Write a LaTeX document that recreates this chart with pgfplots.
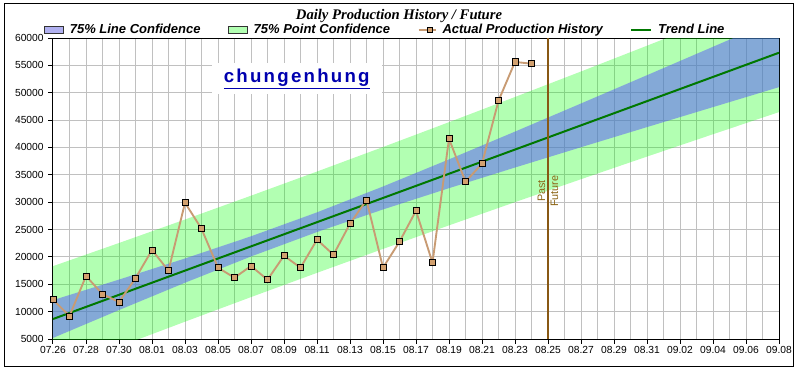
\documentclass[border=0pt]{standalone}
\usepackage{pgfplots}
\pgfplotsset{compat=1.18}
\usepackage{fontspec}
\setmainfont{Liberation Sans}
\newfontfamily\titlefont{Liberation Serif}
\newfontfamily\logofont[LetterSpace=12]{Liberation Sans}
\definecolor{bandblue}{RGB}{88,85,252}
\definecolor{bandgreen}{RGB}{0,255,0}
\definecolor{legblue}{RGB}{176,176,240}
\definecolor{leggreen}{RGB}{178,255,178}
\definecolor{actline}{RGB}{200,155,115}
\definecolor{actmark}{RGB}{210,160,110}
\definecolor{trendc}{RGB}{0,120,0}
\definecolor{pastfut}{RGB}{136,88,20}
\definecolor{pftext}{RGB}{140,100,20}
\definecolor{gridgray}{RGB}{192,192,192}
\definecolor{logoblue}{RGB}{0,0,175}
\begin{document}
\begin{tikzpicture}
\path[use as bounding box] (0,0) rectangle (598.5pt,278.25pt);
\fill[white] (0,0) rectangle (598.5pt,278.25pt);
\draw[black, line width=0.75pt] (3.375pt,3.75pt) rectangle (594.75pt,275.625pt);
\node[font=\titlefont\bfseries\itshape\fontsize{11}{13}\selectfont, anchor=base, inner sep=0pt] at (299.25pt,263.4pt) {Daily Production History / Future};
\begin{axis}[
 at={(39.75pt,24pt)}, anchor=south west,
 scale only axis, width=544.5pt, height=225.75pt,
 xmin=0, xmax=44, ymin=5000, ymax=60000,
 xtick={0,2,...,44},
 xticklabels={07.26,07.28,07.30,08.01,08.03,08.05,08.07,08.09,08.11,08.13,08.15,08.17,08.19,08.21,08.23,08.25,08.27,08.29,08.31,09.02,09.04,09.06,09.08},
 minor x tick num=1,
 ytick={5000,10000,...,60000},
 scaled y ticks=false,
 yticklabel style={/pgf/number format/1000 sep={}},
 /pgf/number format/assume math mode=true,
 tick label style={font=\fontsize{7.7}{9}\selectfont},
 xticklabel style={inner sep=1.5pt},
 grid=both,
 major grid style={gridgray, line width=0.75pt},
 minor grid style={gridgray, line width=0.75pt},
 tick align=outside, xtick pos=bottom, ytick pos=left,
 major tick length=3.5pt, minor tick length=0pt,
 tick style={black, line width=0.75pt},
 axis line style={black, line width=0.75pt},
 legend columns=4,
 legend cell align=left,
 legend style={at={(-0.0124,1.028)}, anchor=west, draw=none, fill=none,
   inner sep=0pt, outer sep=0pt,
   font=\bfseries\itshape\fontsize{9.75}{11}\selectfont,
   nodes={inner sep=0pt},
   /tikz/every odd column/.style={column sep=4.5pt},
   /tikz/every even column/.style={column sep=20.5pt}},
]
\addlegendimage{legend image code/.code={\draw[fill=legblue, draw=black!80, line width=0.6pt] (0pt,-2.6pt) rectangle (14.25pt,2.6pt);}}
\addlegendentry{75\% Line Confidence}
\addlegendimage{legend image code/.code={\draw[fill=leggreen, draw=black!80, line width=0.6pt] (0pt,-2.6pt) rectangle (14.25pt,2.6pt);}}
\addlegendentry{75\% Point Confidence}
\addlegendimage{legend image code/.code={\draw[actline, line width=1.5pt] (0pt,0pt) -- (12.75pt,0pt); \node[draw=black, fill=actmark, line width=0.5pt, minimum size=4pt, inner sep=0pt] at (6.375pt,0pt) {};}}
\addlegendentry{Actual Production History}
\addlegendimage{legend image code/.code={\draw[trendc, line width=1.5pt] (0pt,0pt) -- (15pt,0pt);}}
\addlegendentry{Trend Line}

% 75% point confidence band
\addplot[forget plot, fill=bandgreen, fill opacity=0.3, draw=none] coordinates {
(0,18310) (4,22541) (8,26831) (12,31184) (16,35599) (20,40078) (24,44620) (28,49222) (32,53880) (36,58591) (40,63352) (44,68156)
(44,46464) (40,42420) (36,38333) (32,34198) (28,30008) (24,25764) (20,21458) (16,17089) (12,12658) (8,8163) (4,3607) (0,-1010)} --cycle;
% 75% line confidence band
\addplot[forget plot, fill=bandblue, fill opacity=0.5, draw=none] coordinates {
(0,12105) (4,15858) (8,19712) (12,23764) (16,28141) (20,32866) (24,37822) (28,42896) (32,48034) (36,53204) (40,58396) (44,63600)
(44,51020) (40,47376) (36,43720) (32,40044) (28,36334) (24,32562) (20,28670) (16,24547) (12,20078) (8,15282) (4,10290) (0,5195)} --cycle;
% trend line
\addplot[forget plot, trendc, line width=1.5pt] coordinates {(0,8650) (44,57310)};
% past / future divider
\addplot[forget plot, pastfut, line width=1.6pt] coordinates {(30,5000) (30,60000)};
% actual production
\addplot[forget plot, actline, line width=1.4pt, mark=square*, mark size=2.3pt, mark options={fill=actmark, draw=black, line width=0.6pt}] coordinates {
(0,12180) (1,9200) (2,16500) (3,13200) (4,11760) (5,16100) (6,21260) (7,17480) (8,29900) (9,25150)
(10,18030) (11,16200) (12,18340) (13,15830) (14,20220) (15,18030) (16,23140) (17,20400) (18,26070) (19,30400)
(20,18030) (21,22780) (22,28440) (23,18940) (24,41600) (25,33740) (26,37030) (27,48540) (28,55630) (29,55300)};
\node[rotate=90, anchor=south, font=\fontsize{8.1}{9}\selectfont, text=pftext, inner sep=1.8pt] at (axis cs:30,32040) {Past};
\node[rotate=90, anchor=north, font=\fontsize{8.1}{9}\selectfont, text=pftext, inner sep=1.8pt] at (axis cs:30,32040) {Future};
\node[fill=white, minimum width=127.5pt, minimum height=23.25pt, inner sep=0pt, font=\logofont\bfseries\fontsize{14}{15}\selectfont, text=logoblue] at (axis cs:14.77,52590) {\underline{chungenhung}};
\end{axis}
\end{tikzpicture}
\end{document}
